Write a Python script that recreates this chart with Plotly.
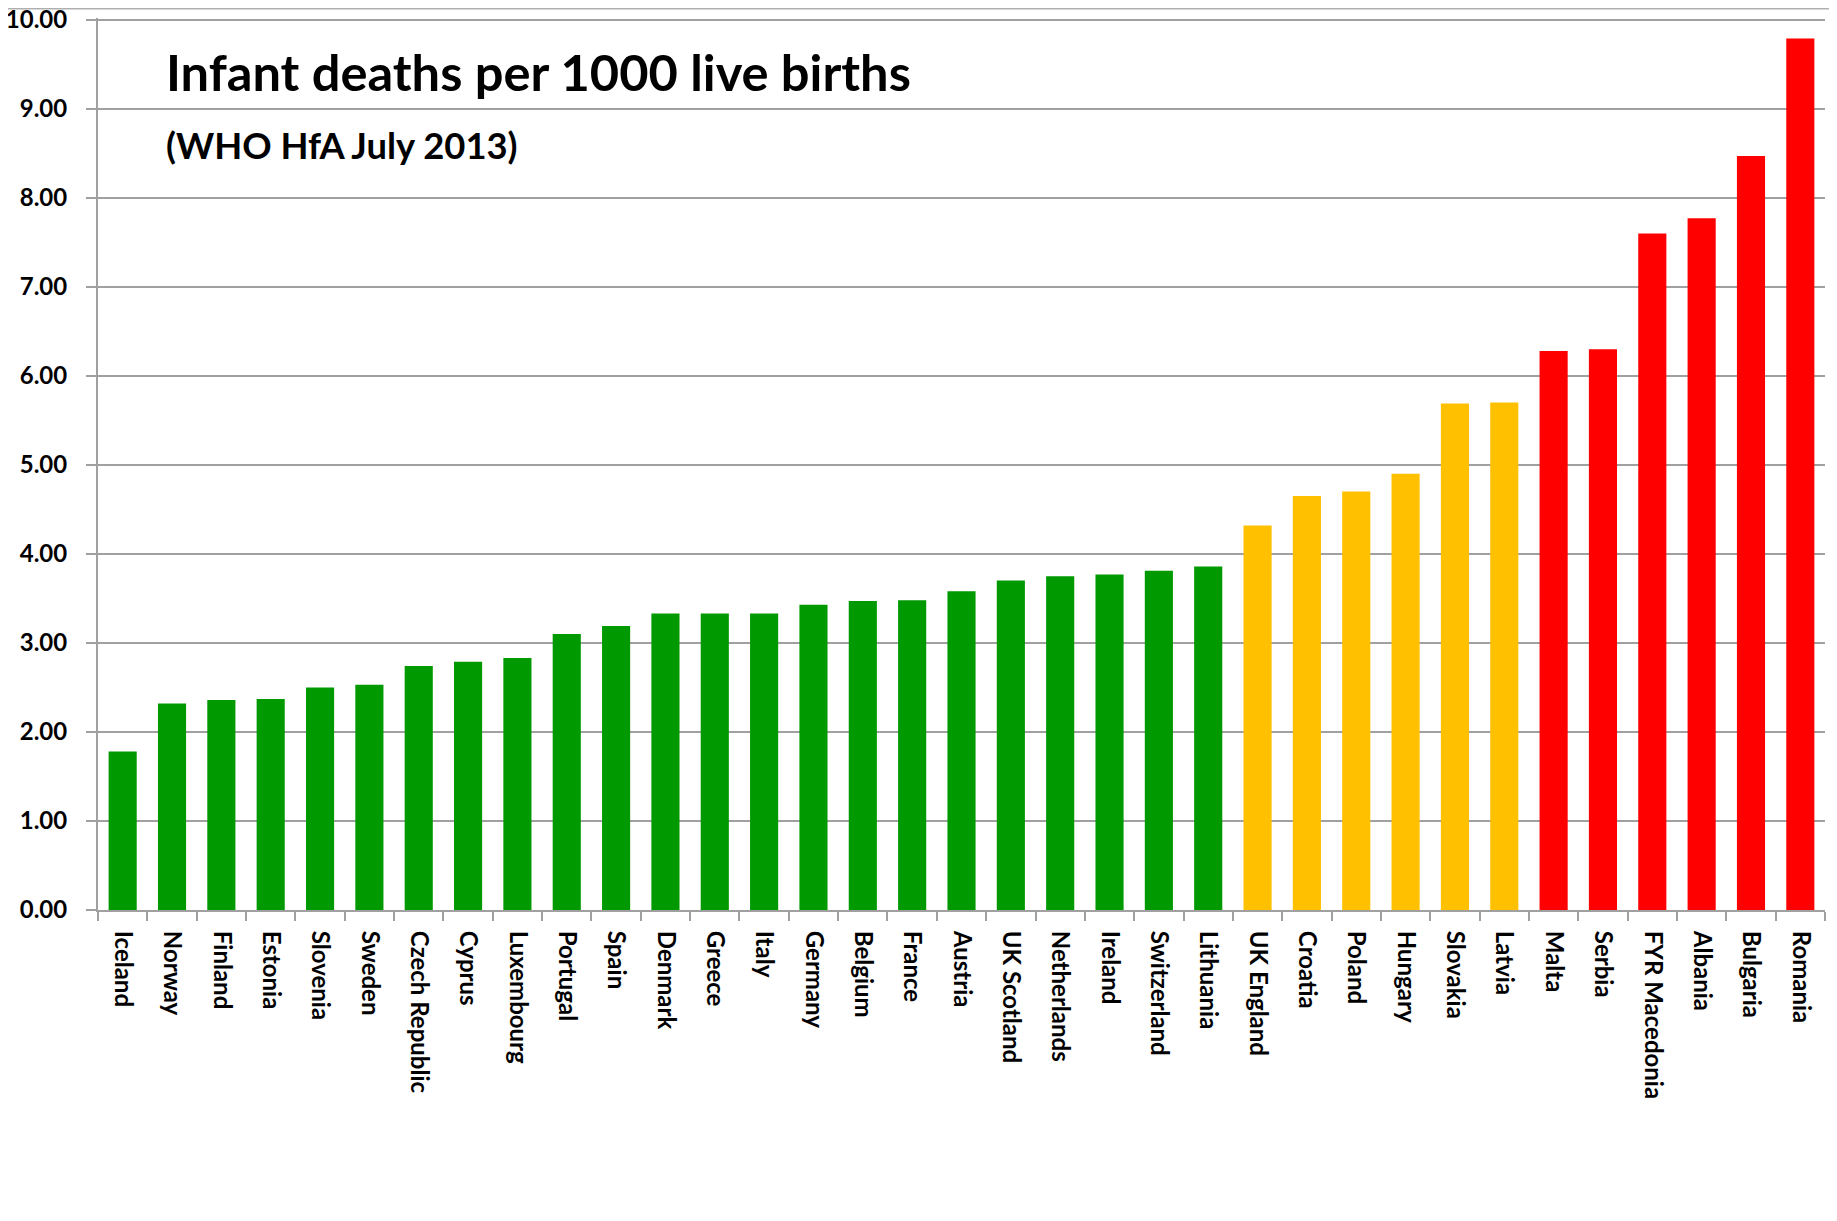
import plotly.graph_objects as go

countries = ["Iceland", "Norway", "Finland", "Estonia", "Slovenia", "Sweden",
             "Czech Republic", "Cyprus", "Luxembourg", "Portugal", "Spain",
             "Denmark", "Greece", "Italy", "Germany", "Belgium", "France",
             "Austria", "UK Scotland", "Netherlands", "Ireland", "Switzerland",
             "Lithuania", "UK England", "Croatia", "Poland", "Hungary",
             "Slovakia", "Latvia", "Malta", "Serbia", "FYR Macedonia",
             "Albania", "Bulgaria", "Romania"]
values = [1.78, 2.32, 2.36, 2.37, 2.50, 2.53, 2.74, 2.79, 2.83, 3.10, 3.19,
          3.33, 3.33, 3.33, 3.43, 3.47, 3.48, 3.58, 3.70, 3.75, 3.77, 3.81,
          3.86, 4.32, 4.65, 4.70, 4.90, 5.69, 5.70, 6.28, 6.30, 7.60, 7.77,
          8.47, 9.79]
groups = ["low"] * 23 + ["mid"] * 6 + ["high"] * 6
group_colors = {"low": "#009900", "mid": "#FFC000", "high": "#FF0000"}
y_ticks = [0, 1, 2, 3, 4, 5, 6, 7, 8, 9, 10]

title_text = "Infant deaths per 1000 live births"
subtitle_text = "(WHO HfA July 2013)"

W, H = 1837, 1221
ml, mr, mt, mb = 90, 20, 10, 319
pw, ph = W - ml - mr, H - mt - mb

fig = go.Figure(go.Bar(
    x=countries, y=values,
    marker=dict(color=[group_colors[g] for g in groups], line=dict(width=0)),
    hoverinfo="x+y",
))

font_family = "Lato, 'Open Sans', sans-serif"

fig.update_layout(
    width=W, height=H,
    margin=dict(l=ml, r=mr, t=mt, b=mb, autoexpand=False),
    paper_bgcolor="white", plot_bgcolor="white",
    bargap=0.43,
    showlegend=False,
    font=dict(family=font_family, color="black"),
    xaxis=dict(
        type="category",
        automargin=False,
        tickangle=90,
        tickfont=dict(size=24, family=font_family, color="black", weight="bold"),
        showline=True, linecolor="#A0A0A0", linewidth=2,
        ticks="outside", tickson="boundaries", ticklen=9, tickcolor="#A0A0A0", tickwidth=2,
        ticklabelstandoff=14,
        showgrid=False,
    ),
    yaxis=dict(
        range=[0, 10.02],
        automargin=False,
        tickvals=y_ticks,
        tickformat=".2f",
        tickfont=dict(size=24, family=font_family, color="black", weight="bold"),
        ticklabeloverflow="allow",
        showline=True, linecolor="#A0A0A0", linewidth=2,
        ticks="outside", ticklen=10, tickcolor="#A0A0A0", tickwidth=2,
        ticklabelstandoff=14,
        showgrid=True, gridcolor="#A0A0A0", gridwidth=1.5,
        zeroline=False,
    ),
    annotations=[
        dict(text="<b>" + title_text + "</b>", xref="paper", yref="paper",
             x=(155.5 - ml) / pw, y=1 - (63 - mt) / ph, xanchor="left", yanchor="middle",
             showarrow=False, font=dict(size=50.6, family=font_family, color="black")),
        dict(text="<b>" + subtitle_text + "</b>", xref="paper", yref="paper",
             x=(155.5 - ml) / pw, y=1 - (137 - mt) / ph, xanchor="left", yanchor="middle",
             showarrow=False, font=dict(size=36.4, family=font_family, color="black")),
    ],
    shapes=[
        dict(type="line", xref="paper", yref="paper",
             x0=-ml / pw, x1=1 + mr / pw, y0=1 + (mt - 0.5) / ph, y1=1 + (mt - 0.5) / ph,
             line=dict(color="#B0B0B0", width=2)),
    ],
)

fig.write_html("out.html", config={"displayModeBar": False})
